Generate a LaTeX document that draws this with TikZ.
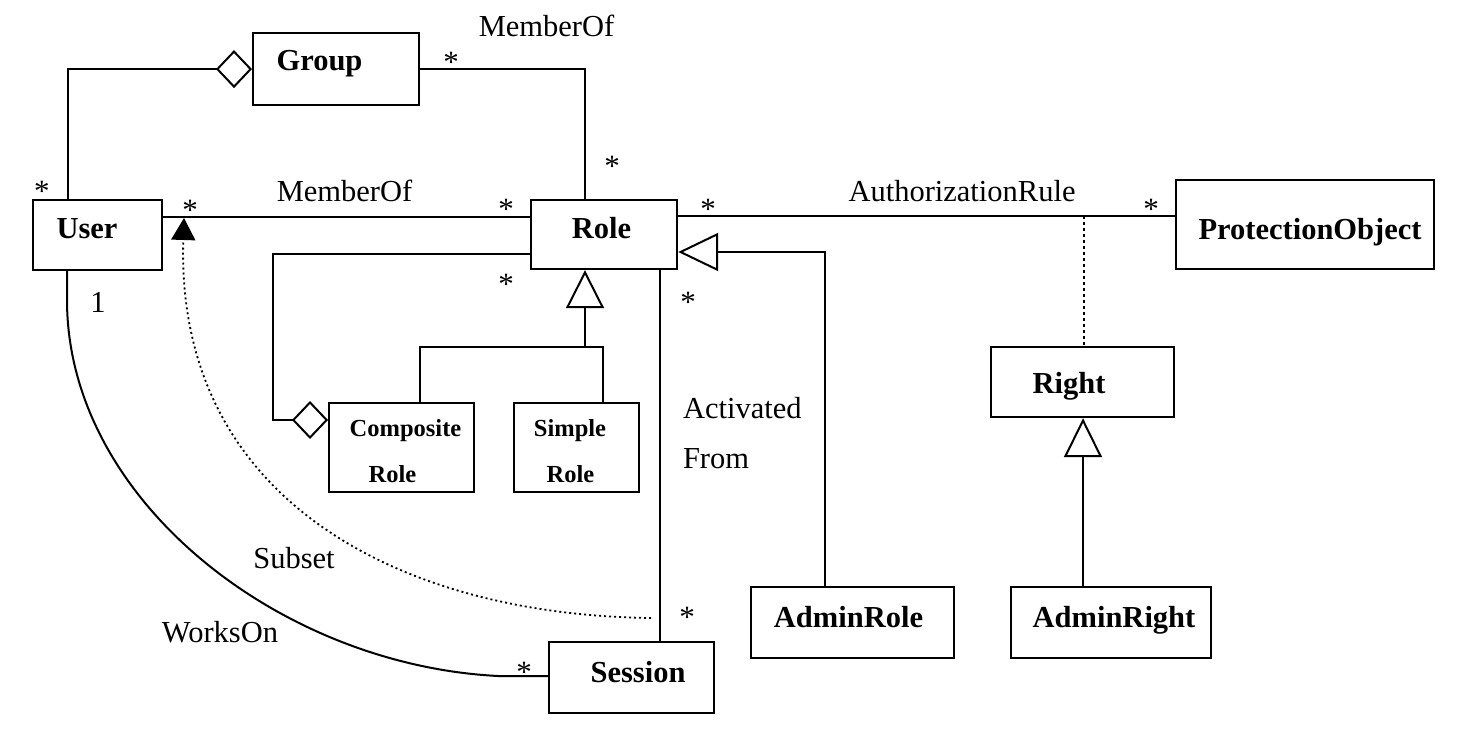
\documentclass[tikz,border=0pt]{standalone}
\usepackage{fontspec}
\setmainfont{Liberation Serif}
\usetikzlibrary{arrows.meta,calc}
\begin{document}
\begin{tikzpicture}[x=1pt,y=-1pt,
  line width=2pt,
  box/.style={draw, line width=2.2pt, inner sep=0pt, anchor=north west},
  bname/.style={font=\fontsize{30.5}{36}\selectfont\bfseries, inner sep=0pt, anchor=base},
  sname/.style={font=\fontsize{24.5}{30}\selectfont\bfseries, inner sep=0pt, anchor=base},
  lbl/.style={font=\fontsize{30.5}{36}\selectfont, inner sep=0pt, anchor=base},
  lbll/.style={font=\fontsize{30.5}{36}\selectfont, inner sep=0pt, anchor=base west},
  mult/.style={font=\fontsize{31}{36}\selectfont, inner sep=0pt, anchor=base},
  aggstart/.style={{Diamond[open,length=36pt,width=38pt]}-},
  aggend/.style={-{Diamond[open,length=36pt,width=38pt]}},
  gen/.style={-{Triangle[open,length=#1,width=38pt]}},
  dotline/.style={line width=1.8pt, dash pattern=on 2pt off 3pt},
  dashline/.style={line width=1.6pt, dash pattern=on 3pt off 3pt},
]
\useasboundingbox (0,0) rectangle (1480,746);

% boxes
\node[box, minimum width=166pt, minimum height=72pt] (group) at (252,32) {};
\node[box, minimum width=129pt, minimum height=70pt] (user) at (32,199) {};
\node[box, minimum width=146pt, minimum height=69pt] (role) at (530,199) {};
\node[box, minimum width=258pt, minimum height=89pt] (po) at (1175,179) {};
\node[box, minimum width=183pt, minimum height=70pt] (right) at (990,346) {};
\node[box, minimum width=203pt, minimum height=71pt] (adminrole) at (750,586) {};
\node[box, minimum width=200pt, minimum height=71pt] (adminright) at (1010,586) {};
\node[box, minimum width=165pt, minimum height=71pt] (session) at (548,641) {};
\node[box, minimum width=145pt, minimum height=89pt] (comp) at (328,402) {};
\node[box, minimum width=125pt, minimum height=89pt] (simple) at (513,402) {};

% box names
\node[bname] (groupT) at (319.5,71) {Group};
\node[bname] (userT) at (87,238) {User};
\node[bname] (roleT) at (601.5,238) {Role};
\node[bname] (poT) at (1310,239) {ProtectionObject};
\node[bname] (rightT) at (1069,393) {Right};
\node[bname] (adminroleT) at (848.5,627) {AdminRole};
\node[bname] (adminrightT) at (1114,627) {AdminRight};
\node[bname] (sessionT) at (638,682) {Session};
\node[sname] (compT1) at (405.5,436) {Composite};
\node[sname] (compT2) at (392.5,482) {Role};
\node[sname] (simpleT1) at (570,436) {Simple};
\node[sname] (simpleT2) at (570.5,482) {Role};

% coordinates
\coordinate (assoc) at (1084,216);
\coordinate (genjoin) at (585,347);
\coordinate (subsetStart) at (651,618);
\coordinate (subsetTip) at (184,218);

% connectors
\draw[aggstart] (group.west) -| (user.north -| 68,0);
\draw (group.east) -| (role.north -| 585,0);
\draw (user.east |- 0,217) -- (role.west |- 0,217);
\draw (role.east |- 0,216) -- (po.west |- 0,216);
\draw[dashline] (assoc) -- (right.north -| 1084,0);
\draw[aggend] (role.west |- 0,254) -- (273,254) -- (273,420) -- (comp.west |- 0,420);
\draw (comp.north -| 420,0) -- (420,347) -- (603,347) -- (simple.north -| 603,0);
\draw[gen=38pt] (genjoin) -- (role.south -| 585,0);
\draw[gen=40pt] (adminrole.north -| 825,0) |- (role.east |- 0,252);
\draw (role.south -| 660,0) -- (session.north -| 660,0);
\draw[gen=39pt] (adminright.north -| 1083,0) -- (right.south -| 1083,0);
\draw (user.south -| 67,0) -- (67,300) .. controls (67,500) and (280,665) .. (498,676) -- (session.west |- 0,676);
\draw[dotline, -{Triangle[length=22pt,width=24pt]}] (subsetStart) .. controls (400,615) and (175,500) .. (subsetTip);

% association labels
\node[lbl] (mo1) at (546.5,37) {MemberOf};
\node[lbl] (mo2) at (344.5,202) {MemberOf};
\node[lbl] (authr) at (962,202) {AuthorizationRule};
\node[lbll] (act1) at (682,418) {Activated};
\node[lbll] (act2) at (682,468) {From};
\node[lbl] (subsetL) at (294,568) {Subset};
\node[lbl] (worksL) at (220,642) {WorksOn};
\node[lbl] (one) at (98,312) {1};

% multiplicities
\node[mult] (m1) at (451,73) {*};
\node[mult] (m2) at (42,202) {*};
\node[mult] (m3) at (190,220) {*};
\node[mult] (m4) at (612,177) {*};
\node[mult] (m5) at (506,219) {*};
\node[mult] (m6) at (506,294) {*};
\node[mult] (m7) at (708,219) {*};
\node[mult] (m8) at (688,312) {*};
\node[mult] (m9) at (1151,219) {*};
\node[mult] (m10) at (687,627) {*};
\node[mult] (m11) at (524,682) {*};
\end{tikzpicture}
\end{document}
